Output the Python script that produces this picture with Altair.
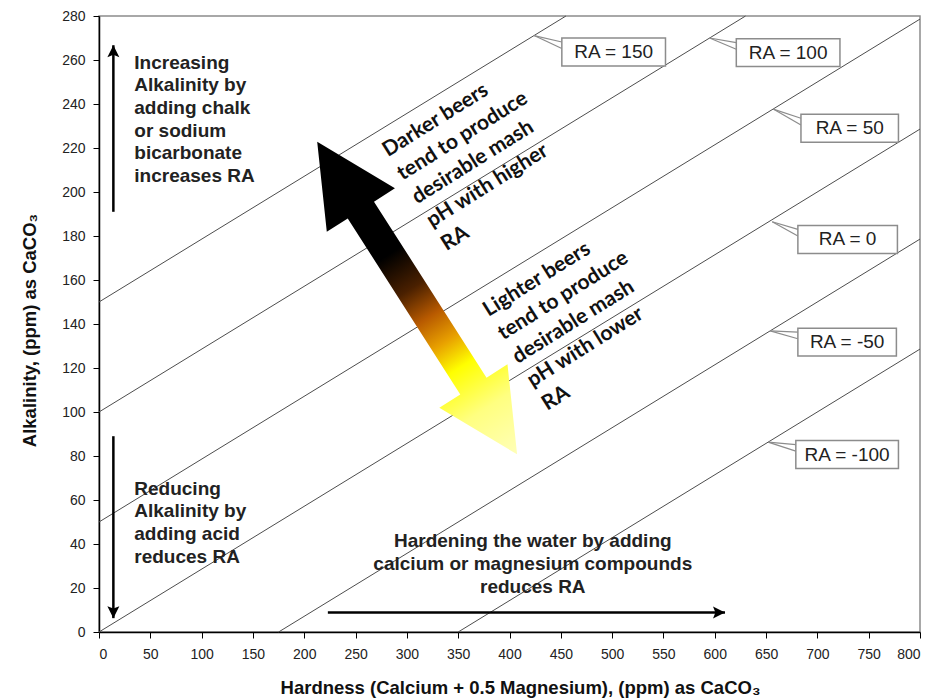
import altair as alt
import pandas as pd

# ---- data ----
ra_values = [150, 100, 50, 0, -50, -100]
line_h_start = [0, 0, 0, 0, 175, 350]
line_a_start = [150, 100, 50, 0, 0, 0]
line_h_end = [455, 630, 800, 800, 800, 800]
line_a_end = [280, 280, 278.6, 228.6, 178.6, 128.6]

x_ticks = list(range(0, 801, 50))
y_ticks = list(range(0, 281, 20))

callout_labels = ["RA = 150", "RA = 100", "RA = 50", "RA = 0", "RA = -50", "RA = -100"]
callout_tip_h = [424, 595, 657, 656, 654, 652]
callout_tip_a = [271.1, 270.0, 237.7, 186.5, 136.9, 86.3]
callout_box_h1 = [451, 621, 684, 681, 681, 679]
callout_box_h2 = [552, 722, 779, 778, 777, 779]
callout_box_top = [270.0, 269.7, 235.3, 184.8, 138.1, 87.0]
box_height_units = 12.7

# thin black arrows (tail -> tip), in data units
arrow_tail_h = [14, 14, 223]
arrow_tail_a = [191, 89, 8.9]
arrow_tip_h = [14, 14, 610]
arrow_tip_a = [266.7, 6.3, 8.9]
arrow_angle = [0, 180, 90]

# gradient double arrow (centre, in data units)
grad_center_h = [310]
grad_center_a = [151.8]

left_texts = [
    "Increasing\nAlkalinity by\nadding chalk\nor sodium\nbicarbonate\nincreases RA",
    "Reducing\nAlkalinity by\nadding acid\nreduces RA",
]
left_text_h = [34.4, 34.4]
left_text_a = [256.1, 62.4]

bottom_text = ["Hardening the water by adding\ncalcium or magnesium  compounds\nreduces RA"]
bottom_text_h = [422.7]
bottom_text_a = [38.6]

diag_texts = [
    "Darker beers\ntend to produce\ndesirable mash\npH with higher\nRA",
    "Lighter beers\ntend to produce\ndesirable mash\npH with lower\nRA",
]
diag_text_h = [281.5, 379.5]
diag_text_a = [215.8, 143.2]

# ---- tables ----
lines_df = pd.DataFrame({"ra": ra_values, "h": line_h_start, "a": line_a_start,
                         "h2": line_h_end, "a2": line_a_end})
call_df = pd.DataFrame({
    "label": callout_labels,
    "h": callout_box_h1, "h2": callout_box_h2,
    "a": callout_box_top,
})
call_df["a2"] = call_df["a"] - box_height_units
label_df = pd.DataFrame({
    "label": callout_labels,
    "h": (call_df["h"] + call_df["h2"]) / 2,
    "a": (call_df["a"] + call_df["a2"]) / 2,
})
wedge_rows = []
for i in range(len(callout_labels)):
    for off in (1.8, 4.8):
        wedge_rows.append({"h": callout_tip_h[i], "a": callout_tip_a[i],
                           "h2": callout_box_h1[i], "a2": callout_box_top[i] - off})
wedge_df = pd.DataFrame(wedge_rows)

arrows_df = pd.DataFrame({"h": arrow_tail_h, "a": arrow_tail_a, "h2": arrow_tip_h,
                          "a2": arrow_tip_a, "ang": arrow_angle})
heads_df = pd.DataFrame({"h": arrow_tip_h, "a": arrow_tip_a, "ang": arrow_angle})
grad_df = pd.DataFrame({"h": grad_center_h, "a": grad_center_a})
left_df = pd.DataFrame({"h": left_text_h, "a": left_text_a, "t": left_texts})
bottom_df = pd.DataFrame({"h": bottom_text_h, "a": bottom_text_a, "t": bottom_text})
diag_df = pd.DataFrame({"h": diag_text_h, "a": diag_text_a, "t": diag_texts})

# ---- shared encodings ----
xs = alt.Scale(domain=[0, 800], nice=False, zero=False)
ys = alt.Scale(domain=[0, 280], nice=False, zero=False)
X = alt.X("h:Q", scale=xs, axis=alt.Axis(
    values=x_ticks, title="Hardness (Calcium + 0.5 Magnesium), (ppm) as CaCO₃",
    titleX=421, titlePadding=17, labelPadding=9))
Y = alt.Y("a:Q", scale=ys, axis=alt.Axis(
    values=y_ticks, title="Alkalinity, (ppm) as CaCO₃",
    titleY=314, titlePadding=22, labelPadding=8))
X2 = alt.X2("h2:Q")
Y2 = alt.Y2("a2:Q")

ra_lines = alt.Chart(lines_df).mark_rule(color="#4d4d4d", strokeWidth=1).encode(
    x=X, y=Y, x2=X2, y2=Y2)

arrow_path = ("M0,-1 L0.218,-0.563 L0.084,-0.563 L0.084,0.563 L0.218,0.563 "
              "L0,1 L-0.218,0.563 L-0.084,0.563 L-0.084,-0.563 L-0.218,-0.563 Z")
grad = alt.Gradient(
    gradient="linear", x1=0, y1=0, x2=0, y2=1,
    stops=[
        alt.GradientStop(offset=0.0, color="#000000"),
        alt.GradientStop(offset=0.36, color="#000000"),
        alt.GradientStop(offset=0.47, color="#4a2000"),
        alt.GradientStop(offset=0.56, color="#b85a00"),
        alt.GradientStop(offset=0.64, color="#e8a000"),
        alt.GradientStop(offset=0.72, color="#ffff00"),
        alt.GradientStop(offset=0.85, color="#ffff80"),
        alt.GradientStop(offset=1.0, color="#ffffb8"),
    ])
grad_arrow = alt.Chart(grad_df).mark_point(
    shape=arrow_path, size=137641, angle=327.4, filled=True, fill=grad, opacity=1,
    strokeWidth=0).encode(x=X, y=Y)

shafts = alt.Chart(arrows_df).mark_rule(color="black", strokeWidth=2.5).encode(
    x=X, y=Y, x2=X2, y2=Y2)
head_path = "M0,0 L1,2 L0,1.6 L-1,2 Z"
heads = alt.Chart(heads_df).mark_point(
    shape=head_path, size=144, filled=True, color="black", opacity=1).encode(
    x=X, y=Y, angle=alt.Angle("ang:Q", scale=None))

left_txt = alt.Chart(left_df).mark_text(
    align="left", baseline="alphabetic", font="Liberation Sans", fontWeight="bold",
    fontSize=19, lineHeight=22.7, lineBreak="\n", color="#222222").encode(
    x=X, y=Y, text="t:N")
bottom_txt = alt.Chart(bottom_df).mark_text(
    align="center", baseline="alphabetic", font="Liberation Sans", fontWeight="bold",
    fontSize=19, lineHeight=23.2, lineBreak="\n", color="#222222").encode(
    x=X, y=Y, text="t:N")
diag_txt = alt.Chart(diag_df).mark_text(
    align="left", baseline="alphabetic", font="Lato", fontWeight="bold",
    fontSize=21, lineHeight=27.7, lineBreak="\n", angle=328, color="#111111").encode(
    x=X, y=Y, text="t:N")

wedges = alt.Chart(wedge_df).mark_rule(color="#8c8c8c", strokeWidth=1.2).encode(
    x=X, y=Y, x2=X2, y2=Y2)
boxes = alt.Chart(call_df).mark_rect(
    fill="white", stroke="#8c8c8c", strokeWidth=1.5).encode(x=X, y=Y, x2=X2, y2=Y2)
box_txt = alt.Chart(label_df).mark_text(
    align="center", baseline="middle", font="Liberation Sans", fontSize=19,
    color="#222222").encode(x=X, y=Y, text="label:N")

chart = alt.layer(
    ra_lines, grad_arrow, shafts, heads, left_txt, bottom_txt, diag_txt,
    wedges, boxes, box_txt
).properties(
    width=821, height=616,
    autosize=alt.AutoSizeParams(type="none"),
    padding={"left": 91, "top": 8, "right": 6, "bottom": 66},
    background="white",
).configure_view(
    stroke="#8c8c8c", strokeWidth=1.5
).configure_axis(
    grid=False, domainColor="#000000", domainWidth=1.5, tickColor="#000000",
    tickSize=6, tickWidth=1, labelFont="Liberation Sans", labelFontSize=14,
    labelColor="#222222", titleFont="Liberation Sans", titleFontSize=18.5,
    titleFontWeight="bold", titleColor="#111111"
)

chart.save("out.html", embed_options={"renderer": "svg", "actions": False})
